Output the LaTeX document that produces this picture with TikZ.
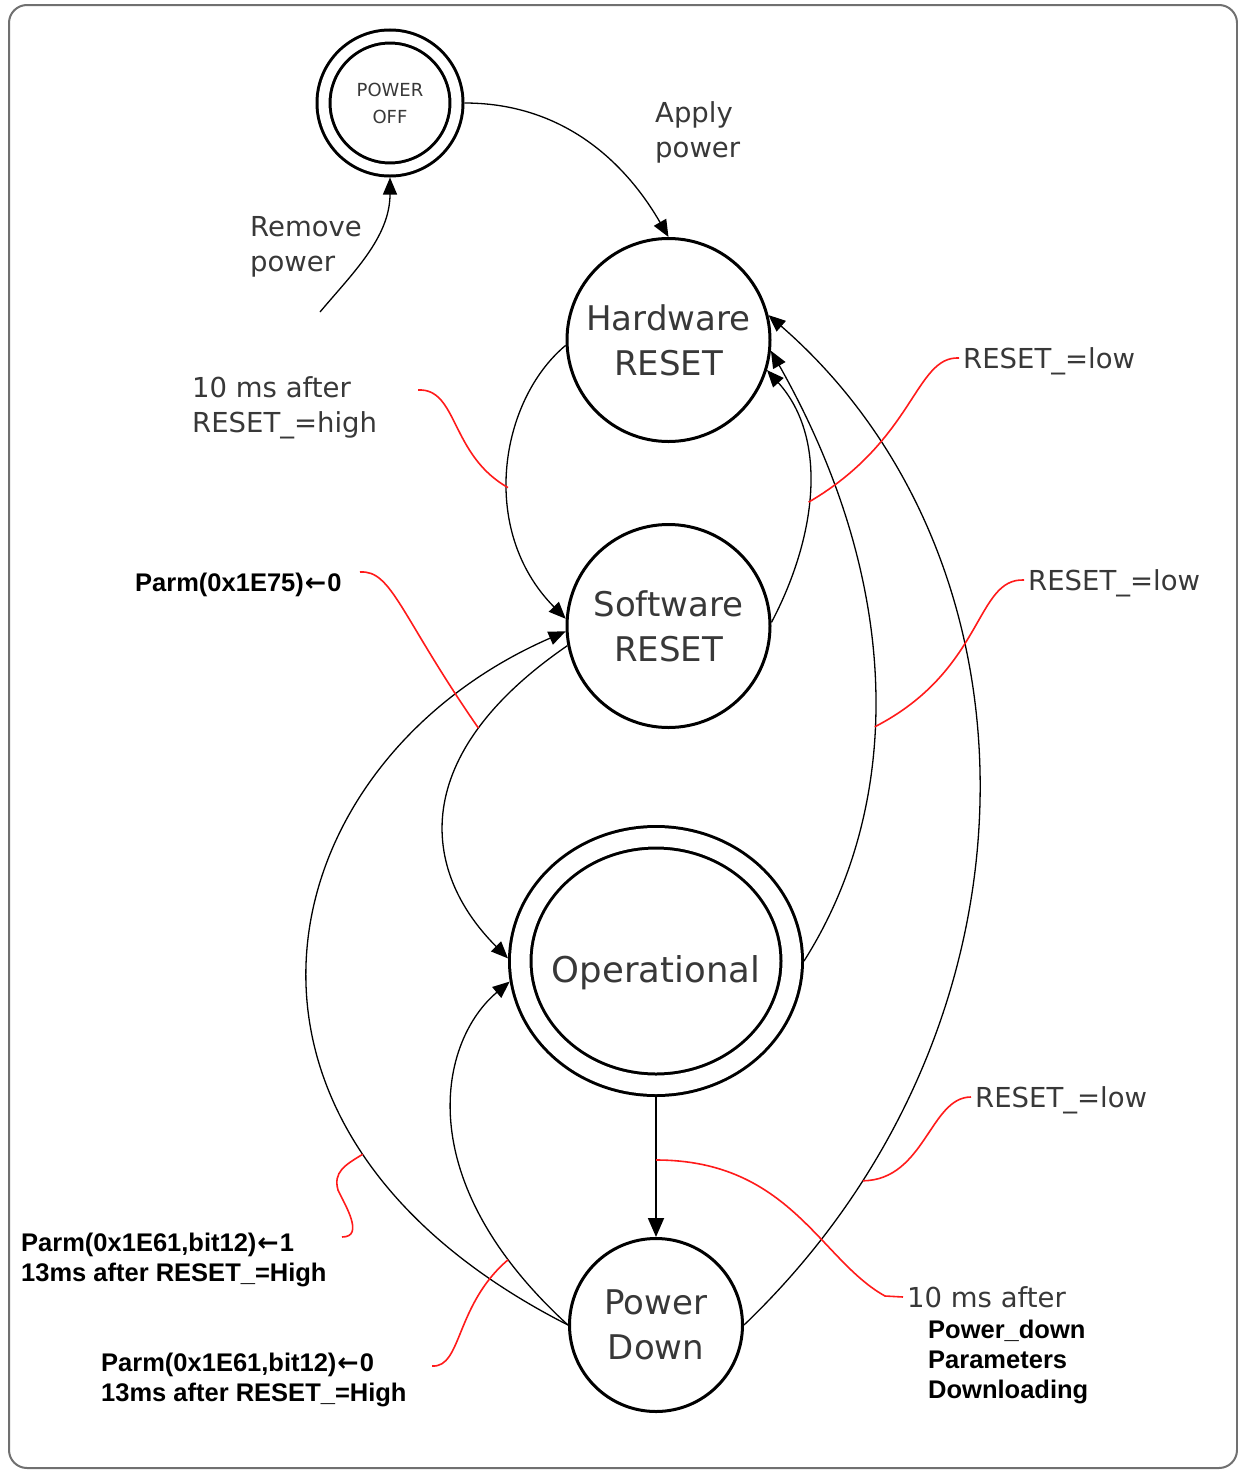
\documentclass[tikz,border=0pt]{standalone}
\usepackage{fontspec}
\usepackage{tikz}
\usetikzlibrary{positioning,arrows.meta,shapes.geometric}
\newfontfamily\statefont{DejaVu Sans}
\newfontfamily\notefont{Liberation Sans}
\newcommand\parmarrow{{\statefont\bfseries\kern1pt←\kern1pt}}
\definecolor{stategray}{HTML}{383838}
\definecolor{framegray}{HTML}{707070}
\definecolor{leadred}{HTML}{FF1A1A}

\begin{document}
\begin{tikzpicture}[x=1pt, y=-1pt,
    statenode/.style={circle, draw=black, line width=3pt, text=stategray, align=center, inner sep=0pt, minimum size=#1, font=\statefont\fontsize{34}{45}\selectfont},
    offnode/.style={circle, draw=black, line width=3pt, double, double distance=10pt, minimum size=133pt, outer sep=8pt, inner sep=0pt, text=stategray, align=center, font=\statefont\fontsize{18}{27}\selectfont},
    opnode/.style={ellipse, draw=black, line width=3pt, double, double distance=18.5pt, minimum width=271.5pt, minimum height=247.5pt, outer sep=12.25pt, inner sep=0pt, text=stategray, font=\statefont\fontsize{35.5}{44}\selectfont},
    trans/.style={line width=1.3pt, -{Triangle[length=17pt,width=14pt]}},
    lead/.style={leadred, line width=1.6pt},
    graynote/.style={text=stategray, align=left, inner sep=0pt, inner xsep=4pt, font=\statefont\fontsize{27.5}{35}\selectfont},
    boldnote/.style={align=left, inner sep=0pt, font=\notefont\bfseries\fontsize{25.5}{30}\selectfont}
   ]
   \useasboundingbox (0,0) rectangle (1238,1470);
   \draw[framegray, line width=2pt, rounded corners=18pt] (9,5) rectangle (1237,1468);

   % states
   \node[offnode]       (off) at (390,103)        {POWER\\OFF};
   \node[statenode=203pt] (hw) at (668.5,340)     {Hardware\\RESET};
   \node[statenode=203pt] (sw) [below=80pt of hw] {Software\\RESET};
   \node[opnode]        (op) at (656,961)         {\makebox[0pt]{\raisebox{-21pt}[0pt][0pt]{Operational}}};
   \node[statenode=173pt] (pd) [below=140pt of op] {Power\\Down};

   % labels
   \node[graynote, anchor=west] (apply)  at (651,132)  {Apply\\power};
   \node[graynote, anchor=west] (remove) at (246,247)  {Remove\\power};
   \node[graynote, anchor=west] (hslbl)  at (188,408)  {10 ms after\\RESET\_=high};
   \node[graynote, anchor=west, text depth=0pt] (low1) at (959,358)  {RESET\_=low};
   \node[graynote, anchor=west, text depth=0pt] (low2) at (1024,580) {RESET\_=low};
   \node[graynote, anchor=west, text depth=0pt] (low3) at (971,1097) {RESET\_=low};
   \node[graynote, anchor=west, text depth=0pt] (pdlbl) at (903,1297) {10 ms after};
   \node[boldnote, anchor=west] (parm75) at (135,585)  {Parm(0x1E75)\parmarrow 0};
   \node[boldnote, anchor=west] (parm1)  at (21,1260)  {Parm(0x1E61,bit12)\parmarrow 1\\13ms after RESET\_=High};
   \node[boldnote, anchor=west] (parm0)  at (101,1380) {Parm(0x1E61,bit12)\parmarrow 0\\13ms after RESET\_=High};
   \node[boldnote, anchor=west] (pdnote) at (928,1362) {Power\_down\\Parameters\\Downloading};

   \coordinate (rmfree) at (320,312);
   \coordinate (hsend)  at (418,390);
   \coordinate (p75end) at (360,572);
   \coordinate (p1end)  at (342,1237);
   \coordinate (p0end)  at (432,1366);

   % transitions
   \draw[trans] (off.east) .. controls +(right:110pt) and +(120:70pt) .. (hw.north);
   \draw[trans] (rmfree) .. controls +(50:50pt) and +(down:60pt) .. (off.south);
   \draw[trans] (hw.183) .. controls (500,400) and (478,530) .. (sw.176) coordinate[pos=0.56] (hwsw);
   \draw[trans] (sw.2) .. controls (815,540) and (830,440) .. (hw.-17) coordinate[pos=0.46] (swhw);
   \draw[trans] (op.east) .. controls (900,810) and (908,593) .. (hw.-6) coordinate[pos=0.44] (ophw);
   \draw[trans] (pd.east) .. controls (1055,1027) and (1050,560) .. (hw.14) coordinate[pos=0.15] (pdhw);
   \draw[trans] (sw.191) .. controls (408,755) and (420,870) .. (op.179) coordinate[pos=0.25] (swop);
   \draw[trans] (pd.west) .. controls (175,1125) and (270,760) .. (sw.183) coordinate[pos=0.245] (pdsw);
   \draw[trans] (pd.west) .. controls (407,1178) and (440,1040) .. (op.188) coordinate[pos=0.15] (pdop);
   \draw[trans, line width=1.8pt, -{Triangle[length=19pt,width=16pt]}] (op.south) -- (pd.north) coordinate[pos=0.45] (oppd);

   % red leaders
   \draw[lead] (hsend) .. controls (458,388) and (450,455) .. (hwsw);
   \draw[lead] (low1.west) .. controls (915,356) and (915,440) .. (swhw);
   \draw[lead] (low2.west) .. controls (975,578) and (985,670) .. (ophw);
   \draw[lead] (low3.west) .. controls (930,1097) and (925,1180) .. (pdhw);
   \draw[lead] (p75end) .. controls (392,570) and (400,615) .. (swop);
   \draw[lead] (p1end) .. controls (365,1237) and (345,1205) .. (338,1190) .. controls (333,1172) and (345,1165) .. (pdsw);
   \draw[lead] (p0end) .. controls (462,1368) and (455,1305) .. (pdop);
   \draw[lead] (oppd) .. controls (790,1160) and (820,1260) .. (885,1296) -- (pdlbl.west);
\end{tikzpicture}
\end{document}
